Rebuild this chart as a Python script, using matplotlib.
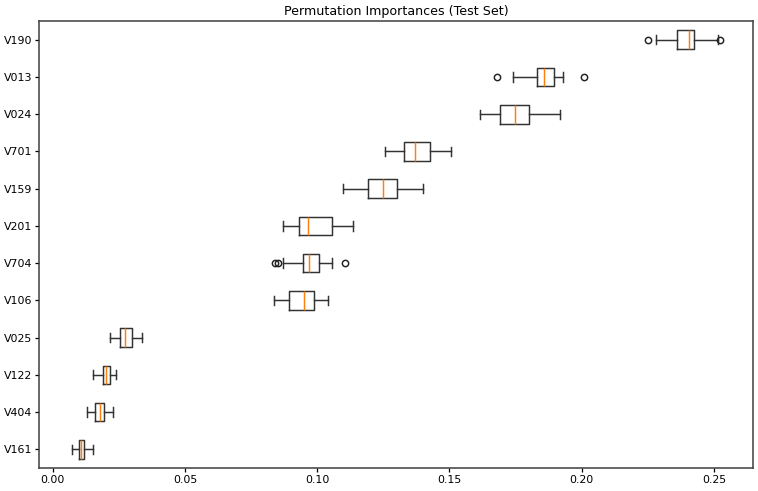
import matplotlib
matplotlib.use("Agg")
import matplotlib.pyplot as plt

# features, bottom to top
features = ["V161", "V404", "V122", "V025", "V106", "V704",
            "V201", "V159", "V701", "V024", "V013", "V190"]
whislo = [0.0073, 0.0130, 0.0152, 0.0217, 0.0837, 0.0871,
          0.0871, 0.1097, 0.1256, 0.1616, 0.1740, 0.2281]
q1 = [0.0099, 0.0160, 0.0190, 0.0254, 0.0893, 0.0946,
      0.0931, 0.1192, 0.1328, 0.1691, 0.1831, 0.2360]
med = [0.0107, 0.0179, 0.0202, 0.0273, 0.0950, 0.0969,
       0.0965, 0.1249, 0.1370, 0.1748, 0.1857, 0.2406]
q3 = [0.0118, 0.0194, 0.0217, 0.0300, 0.0988, 0.1007,
      0.1056, 0.1302, 0.1426, 0.1801, 0.1895, 0.2425]
whishi = [0.0152, 0.0228, 0.0239, 0.0338, 0.1041, 0.1056,
          0.1135, 0.1400, 0.1506, 0.1918, 0.1929, 0.2515]
fliers = [[], [], [], [], [], [0.0840, 0.0852, 0.1105],
          [], [], [], [], [0.1680, 0.2009], [0.2251, 0.2523]]

stats = []
for i in range(len(features)):
    stats.append(dict(label=features[i], whislo=whislo[i], q1=q1[i], med=med[i],
                      q3=q3[i], whishi=whishi[i], fliers=fliers[i]))

lw = 1.4
fig, ax = plt.subplots(figsize=(10, 491 / 75.8), dpi=75.8)
fig.subplots_adjust(left=0.052, right=0.993, top=0.957, bottom=0.047)
ax.bxp(stats, orientation="horizontal",
       boxprops=dict(linewidth=lw, color="#333333"),
       whiskerprops=dict(linewidth=lw, color="#333333"),
       capprops=dict(linewidth=lw, color="#333333"),
       medianprops=dict(linewidth=lw, color="C1"),
       flierprops=dict(marker="o", markersize=6, markeredgewidth=lw,
                       markeredgecolor="#222222", markerfacecolor="none"))
ax.set_xlim(-0.0051, 0.2647)
ax.set_xticks([0.0, 0.05, 0.10, 0.15, 0.20, 0.25])
ax.tick_params(labelsize=10.5, width=1.2)
for s in ax.spines.values():
    s.set_linewidth(1.5)
    s.set_color("#444444")
ax.set_title("Permutation Importances (Test Set)", fontsize=12)
fig.savefig("out.png", dpi=75.8)
